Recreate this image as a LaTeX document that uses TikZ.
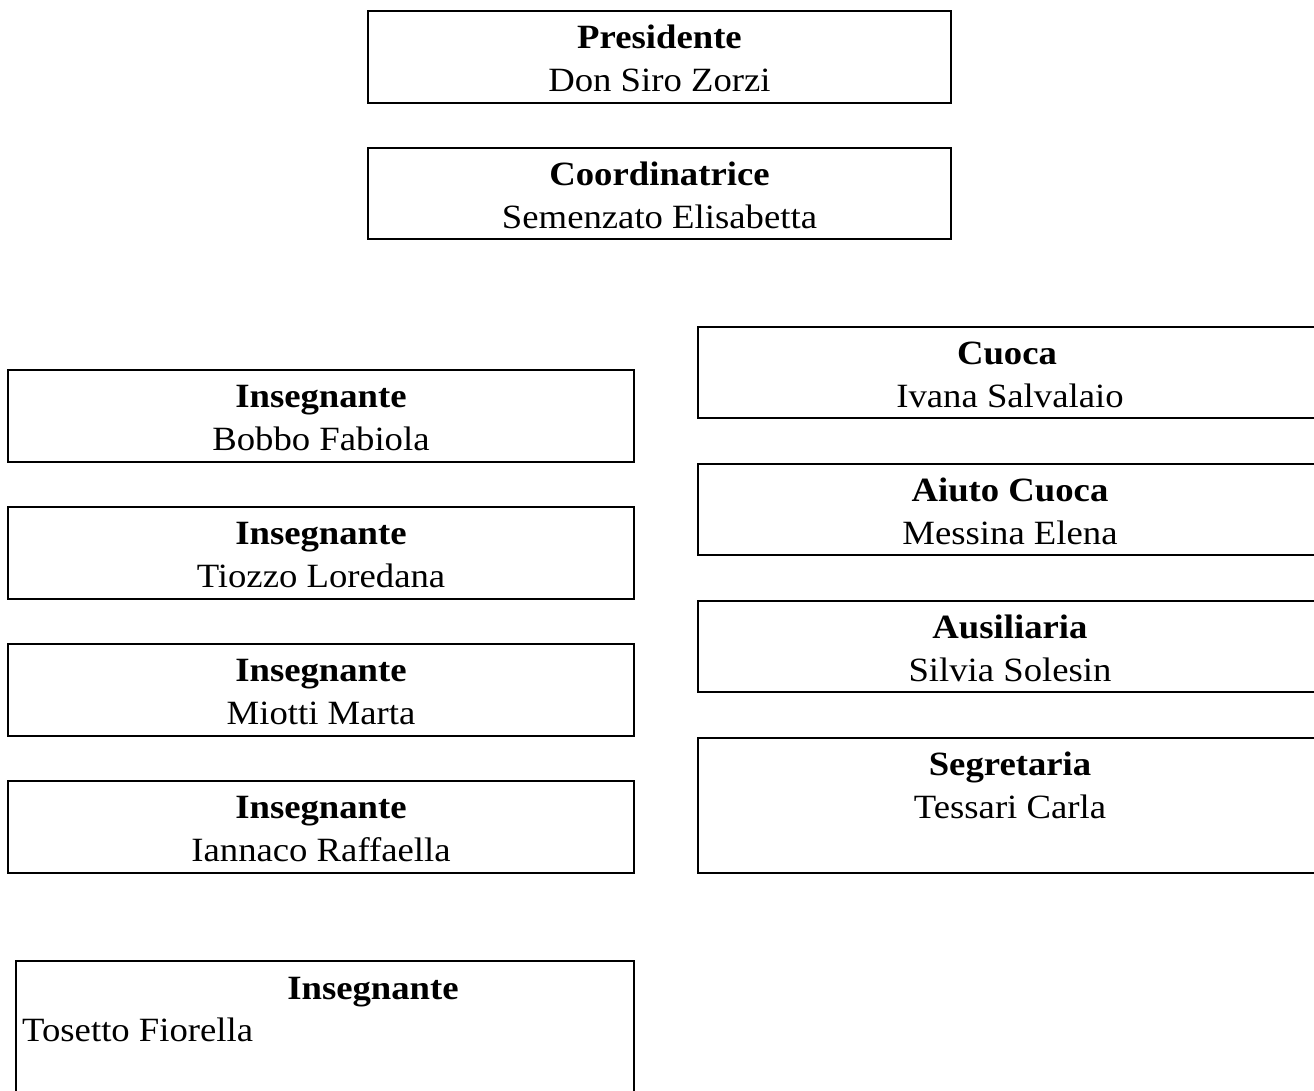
\documentclass[tikz,border=0pt]{standalone}
\usepackage{fontspec}
\setmainfont[FakeStretch=1.08]{Liberation Serif}
\begin{document}
\begin{tikzpicture}[x=1pt,y=-1pt,
  box/.style={draw,line width=2pt,inner sep=0pt},
  ttl/.style={anchor=base,inner sep=0pt,font=\fontsize{34}{40}\selectfont\bfseries},
  nm/.style={anchor=base,inner sep=0pt,font=\fontsize{34}{40}\selectfont}]
\useasboundingbox (0,0) rectangle (1314,1090);
% top boxes
\node[box,minimum width=583pt,minimum height=92pt] (pres) at (659.5,57) {};
\node[ttl] (presT) at (659.5,48) {Presidente};
\node[nm] (presN) at (659.5,91) {Don Siro Zorzi};
\node[box,minimum width=583pt,minimum height=91pt] (coord) at (659.5,193.5) {};
\node[ttl] (coordT) at (659.5,185) {Coordinatrice};
\node[nm] (coordN) at (659.5,228) {Semenzato Elisabetta};
% left column
\node[box,minimum width=626pt,minimum height=92pt] (ins1) at (321,416) {};
\node[ttl] (ins1T) at (321,407) {Insegnante};
\node[nm] (ins1N) at (321,450) {Bobbo Fabiola};
\node[box,minimum width=626pt,minimum height=92pt] (ins2) at (321,553) {};
\node[ttl] (ins2T) at (321,544) {Insegnante};
\node[nm] (ins2N) at (321,587) {Tiozzo Loredana};
\node[box,minimum width=626pt,minimum height=92pt] (ins3) at (321,690) {};
\node[ttl] (ins3T) at (321,681) {Insegnante};
\node[nm] (ins3N) at (321,724) {Miotti Marta};
\node[box,minimum width=626pt,minimum height=92pt] (ins4) at (321,827) {};
\node[ttl] (ins4T) at (321,818) {Insegnante};
\node[nm] (ins4N) at (321,861) {Iannaco Raffaella};
% right column
\node[box,minimum width=618pt,minimum height=91pt] (cuoca) at (1007,372.5) {};
\node[ttl] (cuocaT) at (1007,364) {Cuoca};
\node[nm] (cuocaN) at (1010,407) {Ivana Salvalaio};
\node[box,minimum width=618pt,minimum height=91pt] (aiuto) at (1007,509.5) {};
\node[ttl] (aiutoT) at (1010,501) {Aiuto Cuoca};
\node[nm] (aiutoN) at (1010,544) {Messina Elena};
\node[box,minimum width=618pt,minimum height=91pt] (ausil) at (1007,646.5) {};
\node[ttl] (ausilT) at (1010,638) {Ausiliaria};
\node[nm] (ausilN) at (1010,681) {Silvia Solesin};
\node[box,minimum width=618pt,minimum height=135pt] (segr) at (1007,805.5) {};
\node[ttl] (segrT) at (1010,775) {Segretaria};
\node[nm] (segrN) at (1010,818) {Tessari Carla};
% bottom box
\node[box,minimum width=618pt,minimum height=140pt] (ins5) at (325,1031) {};
\node[ttl] (ins5T) at (373,999) {Insegnante};
\node[nm,anchor=base west] (ins5N) at (22,1041.5) {Tosetto Fiorella};
\end{tikzpicture}
\end{document}
